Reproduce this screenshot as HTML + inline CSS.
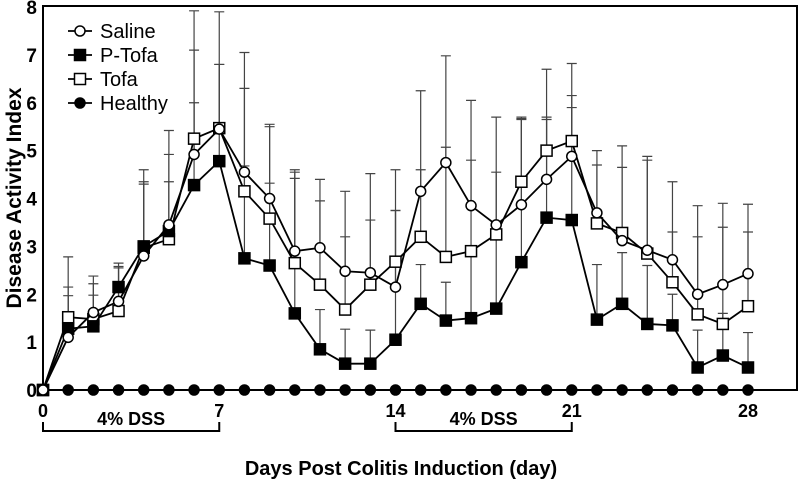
<!DOCTYPE html>
<html><head><meta charset="utf-8"><style>
body{margin:0;background:#fff}
svg{display:block;font-family:"Liberation Sans",Arial,sans-serif}
</style></head><body>
<svg id="chart" width="800" height="482"></svg>
<script>
const days=[0,1,2,3,4,5,6,7,8,9,10,11,12,13,14,15,16,17,18,19,20,21,22,23,24,25,26,27,28];
const saline=[0,1.1,1.62,1.85,2.8,3.45,4.92,5.45,4.55,4.0,2.9,2.97,2.48,2.45,2.15,4.15,4.75,3.85,3.45,3.87,4.4,4.88,3.7,3.12,2.92,2.72,2.0,2.2,2.43];
const salineUpper=[0,2.15,2.38,2.65,4.3,4.92,7.1,7.9,7.05,5.55,4.6,4.4,4.15,4.52,4.6,6.25,6.98,6.05,5.7,5.65,6.7,6.82,5.0,5.1,4.88,4.35,3.85,3.9,3.88];
const tofa=[0,1.52,1.48,1.65,2.97,3.15,5.25,5.47,4.15,3.58,2.65,2.2,1.68,2.2,2.68,3.2,2.78,2.9,3.25,4.35,5.0,5.2,3.48,3.28,2.85,2.25,1.58,1.38,1.75];
const tofaUpper=[0,2.78,2.22,2.58,4.6,5.42,7.92,6.8,6.3,5.5,4.55,3.95,3.2,3.55,3.75,4.6,5.07,4.8,4.55,5.7,5.7,6.15,4.7,4.65,4.8,3.3,3.2,3.4,3.3];
const ptofa=[0,1.28,1.33,2.15,3.0,3.32,4.28,4.78,2.75,2.6,1.6,0.85,0.55,0.55,1.05,1.8,1.45,1.5,1.7,2.67,3.6,3.55,1.47,1.8,1.38,1.35,0.47,0.72,0.47];
const ptofaUpper=[0,1.97,1.98,2.55,4.35,4.35,6.0,6.8,4.68,4.32,4.42,1.68,1.27,1.25,3.75,2.62,2.25,2.9,3.5,5.67,5.65,5.9,2.62,2.87,2.6,2.0,1.25,1.6,1.2];
const healthy=[0,0,0,0,0,0,0,0,0,0,0,0,0,0,0,0,0,0,0,0,0,0,0,0,0,0,0,0,0];
const yTicks=[0,1,2,3,4,5,6,7,8];
const xTicks=[0,7,14,21,28];

const NS="http://www.w3.org/2000/svg";
const svg=document.getElementById('chart');
const X0=43,X1=748,Y0=390,Y1=7;
const x=d=>X0+(X1-X0)*d/28;
const y=v=>Y0-(Y0-Y1)*v/8;
function mk(tag,attrs,parent){const e=document.createElementNS(NS,tag);for(const k in attrs)e.setAttribute(k,attrs[k]);(parent||svg).appendChild(e);return e;}

const frame=mk('rect',{x:X0,y:Y1-1,width:797-X0,height:Y0-Y1+1,fill:'none',stroke:'#000','stroke-width':2});



yTicks.forEach(t=>{
  const tx=mk('text',{x:X0-6,y:y(t)+7,'text-anchor':'end','font-size':19,'font-weight':'bold'});
  tx.textContent=t;
  
  
});
xTicks.forEach(t=>{
  const tx=mk('text',{x:x(t),y:417,'text-anchor':'middle','font-size':18,'font-weight':'bold'});
  tx.textContent=t;
  
  
});

const yt=mk('text',{x:0,y:0,transform:'translate(21,198) rotate(-90)','text-anchor':'middle','font-size':21,'font-weight':'bold'});
yt.textContent='Disease Activity Index';


const xt=mk('text',{x:401,y:475,'text-anchor':'middle','font-size':20,'font-weight':'bold'});
xt.textContent='Days Post Colitis Induction (day)';



[[0,7],[14,21]].forEach(p=>{
  const g=mk('g',{});
  
  
  const a=x(p[0]),b=x(p[1]);
  mk('path',{d:`M${a} 422V431H${b}V422`,fill:'none',stroke:'#000','stroke-width':2},g);
  const t=mk('text',{x:(a+b)/2,y:425,'text-anchor':'middle','font-size':18,'font-weight':'bold'},g);
  t.textContent='4% DSS';
});

const series=[
 {name:'saline',vals:saline,up:salineUpper,marker:'circle',fill:'#fff'},
 {name:'p-tofa',vals:ptofa,up:ptofaUpper,marker:'square',fill:'#000'},
 {name:'tofa',vals:tofa,up:tofaUpper,marker:'square',fill:'#fff'},
 {name:'healthy',vals:healthy,up:null,marker:'circle',fill:'#000'}
];
function marker(s,cx,cy,g){
  if(s.marker==='circle') return mk('circle',{cx,cy,r:5,fill:s.fill,stroke:'#000','stroke-width':1.5},g);
  return mk('rect',{x:cx-5.5,y:cy-5.5,width:11,height:11,fill:s.fill,stroke:'#000','stroke-width':1.5},g);
}
series.forEach(s=>{
  if(!s.up) return;
  const g=mk('g',{});
  
  
  days.forEach((d,i)=>{
    if(s.up[i]<=s.vals[i])return;
    const cx=x(d);
    mk('path',{d:`M${cx} ${y(s.vals[i])}V${y(s.up[i])}M${cx-5} ${y(s.up[i])}H${cx+5}`,stroke:'#444','stroke-width':1.2,fill:'none'},g);
  });
});
series.slice().reverse().forEach(s=>{
  const g=mk('g',{});
  
  
  mk('polyline',{points:days.map((d,i)=>x(d)+','+y(s.vals[i])).join(' '),fill:'none',stroke:'#000','stroke-width':1.8},g);
  days.forEach((d,i)=>{
    const m=marker(s,x(d),y(s.vals[i]),g);
    
    
  });
});

const labels=['Saline','P-Tofa','Tofa','Healthy'];
series.forEach((s,i)=>{
  const g=mk('g',{});
  
  
  const cy=31+i*24;
  mk('line',{x1:68,x2:92,y1:cy,y2:cy,stroke:'#000','stroke-width':1.8},g);
  marker(s,80,cy,g);
  const t=mk('text',{x:100,y:cy+7,'font-size':20},g);
  t.textContent=labels[i];
});
</script>
</body></html>
